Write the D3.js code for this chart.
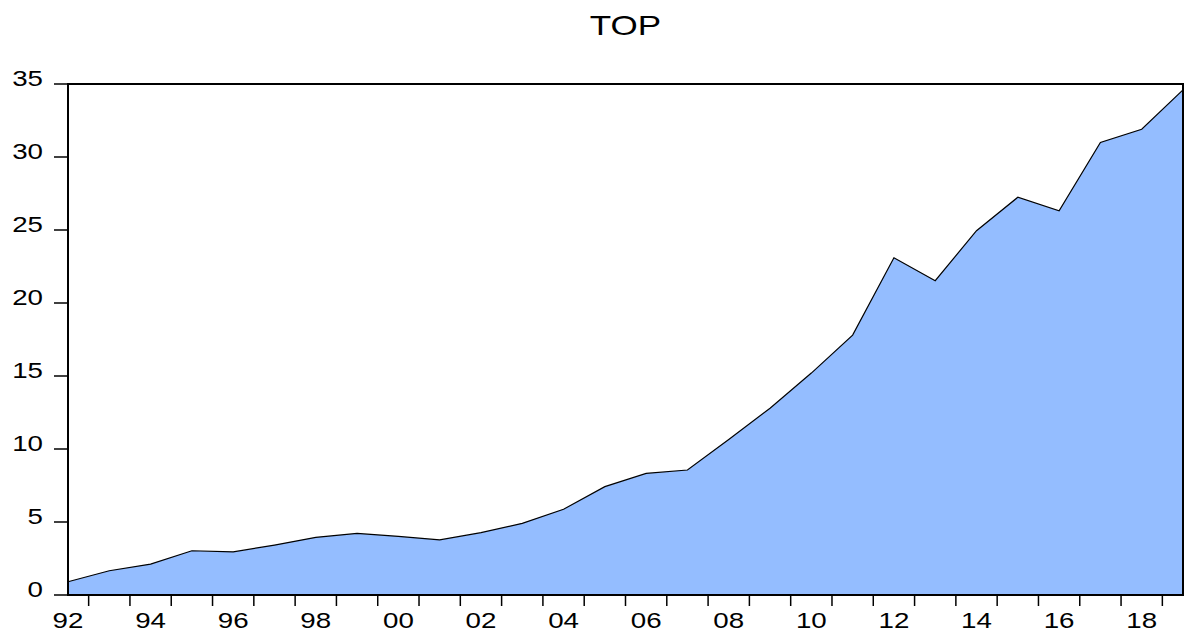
<!DOCTYPE html>
<meta charset="utf-8">
<style>
body { margin: 0; background: #fff; }
text { font-family: "Liberation Sans", Arial, sans-serif; fill: #000; }
.area { fill: #94bdff; stroke: none; }
.line { fill: none; stroke: #000; stroke-width: 1.2px; }
</style>
<svg width="1184" height="637"></svg>
<script src="https://cdn.jsdelivr.net/npm/d3@7"></script>
<script>

var years = d3.range(1992, 2020);
var values = [0.91, 1.66, 2.12, 3.03, 2.95, 3.42, 3.95, 4.22, 4.02, 3.77,
              4.27, 4.91, 5.87, 7.42, 8.33, 8.56, 10.65, 12.79, 15.2, 17.8,
              23.1, 21.53, 24.95, 27.24, 26.32, 31.0, 31.9, 34.6];
var yTicks = [0, 5, 10, 15, 20, 25, 30, 35];
var labelYears = d3.range(1992, 2020, 2);

var data = years.map(function(y, i) { return {year: y, value: values[i]}; });

var svg = d3.select("svg"),
    margin = {top: 84, right: 1, bottom: 42, left: 68},
    width = svg.attr("width") - margin.left - margin.right,
    height = svg.attr("height") - margin.top - margin.bottom,
    g = svg.append("g").attr("transform", "translate(" + margin.left + "," + margin.top + ")");

var x = d3.scaleLinear().domain([1992, 2019]).range([0, width]),
    y = d3.scaleLinear().domain([0, 35]).range([height, 0]);

var stretch = 1.26;

var area = d3.area()
    .x(function(d) { return x(d.year); })
    .y0(height)
    .y1(function(d) { return y(d.value); });

var line = d3.line()
    .x(function(d) { return x(d.year); })
    .y(function(d) { return y(d.value); });

g.append("path").datum(data).attr("class", "area").attr("d", area);
g.append("path").datum(data).attr("class", "line").attr("d", line);

// frame
g.append("rect")
    .attr("width", width)
    .attr("height", height)
    .attr("fill", "none")
    .attr("stroke", "#000")
    .attr("stroke-width", 2);

// y ticks
g.selectAll(".ytick")
    .data(yTicks)
  .enter().append("line")
    .attr("x1", -14).attr("x2", 0)
    .attr("y1", function(d) { return y(d); })
    .attr("y2", function(d) { return y(d); })
    .attr("stroke", "#000")
    .attr("stroke-width", 1.5);

g.selectAll(".ylab")
    .data(yTicks)
  .enter().append("text")
    .attr("transform", function(d) { return "translate(-25," + (y(d) + 2) + ") scale(" + stretch + ",1)"; })
    .attr("text-anchor", "end")
    .style("font-size", "22px")
    .text(function(d) { return d; });

// x ticks between observations
g.selectAll(".xtick")
    .data(years.slice(0, -1))
  .enter().append("line")
    .attr("x1", function(d) { return x(d + 0.5); })
    .attr("x2", function(d) { return x(d + 0.5); })
    .attr("y1", height + 1).attr("y2", height + 11)
    .attr("stroke", "#000")
    .attr("stroke-width", 1.5);

g.selectAll(".xlab")
    .data(labelYears)
  .enter().append("text")
    .attr("transform", function(d) { return "translate(" + x(d) + "," + (height + 33) + ") scale(" + stretch + ",1)"; })
    .attr("text-anchor", "middle")
    .style("font-size", "22px")
    .text(function(d) { return String(d % 100).padStart(2, "0"); });

// title
svg.append("text")
    .attr("transform", "translate(" + (margin.left + width / 2) + ",35) scale(1.25,1)")
    .attr("text-anchor", "middle")
    .style("font-size", "28px")
    .text("TOP");

</script>
